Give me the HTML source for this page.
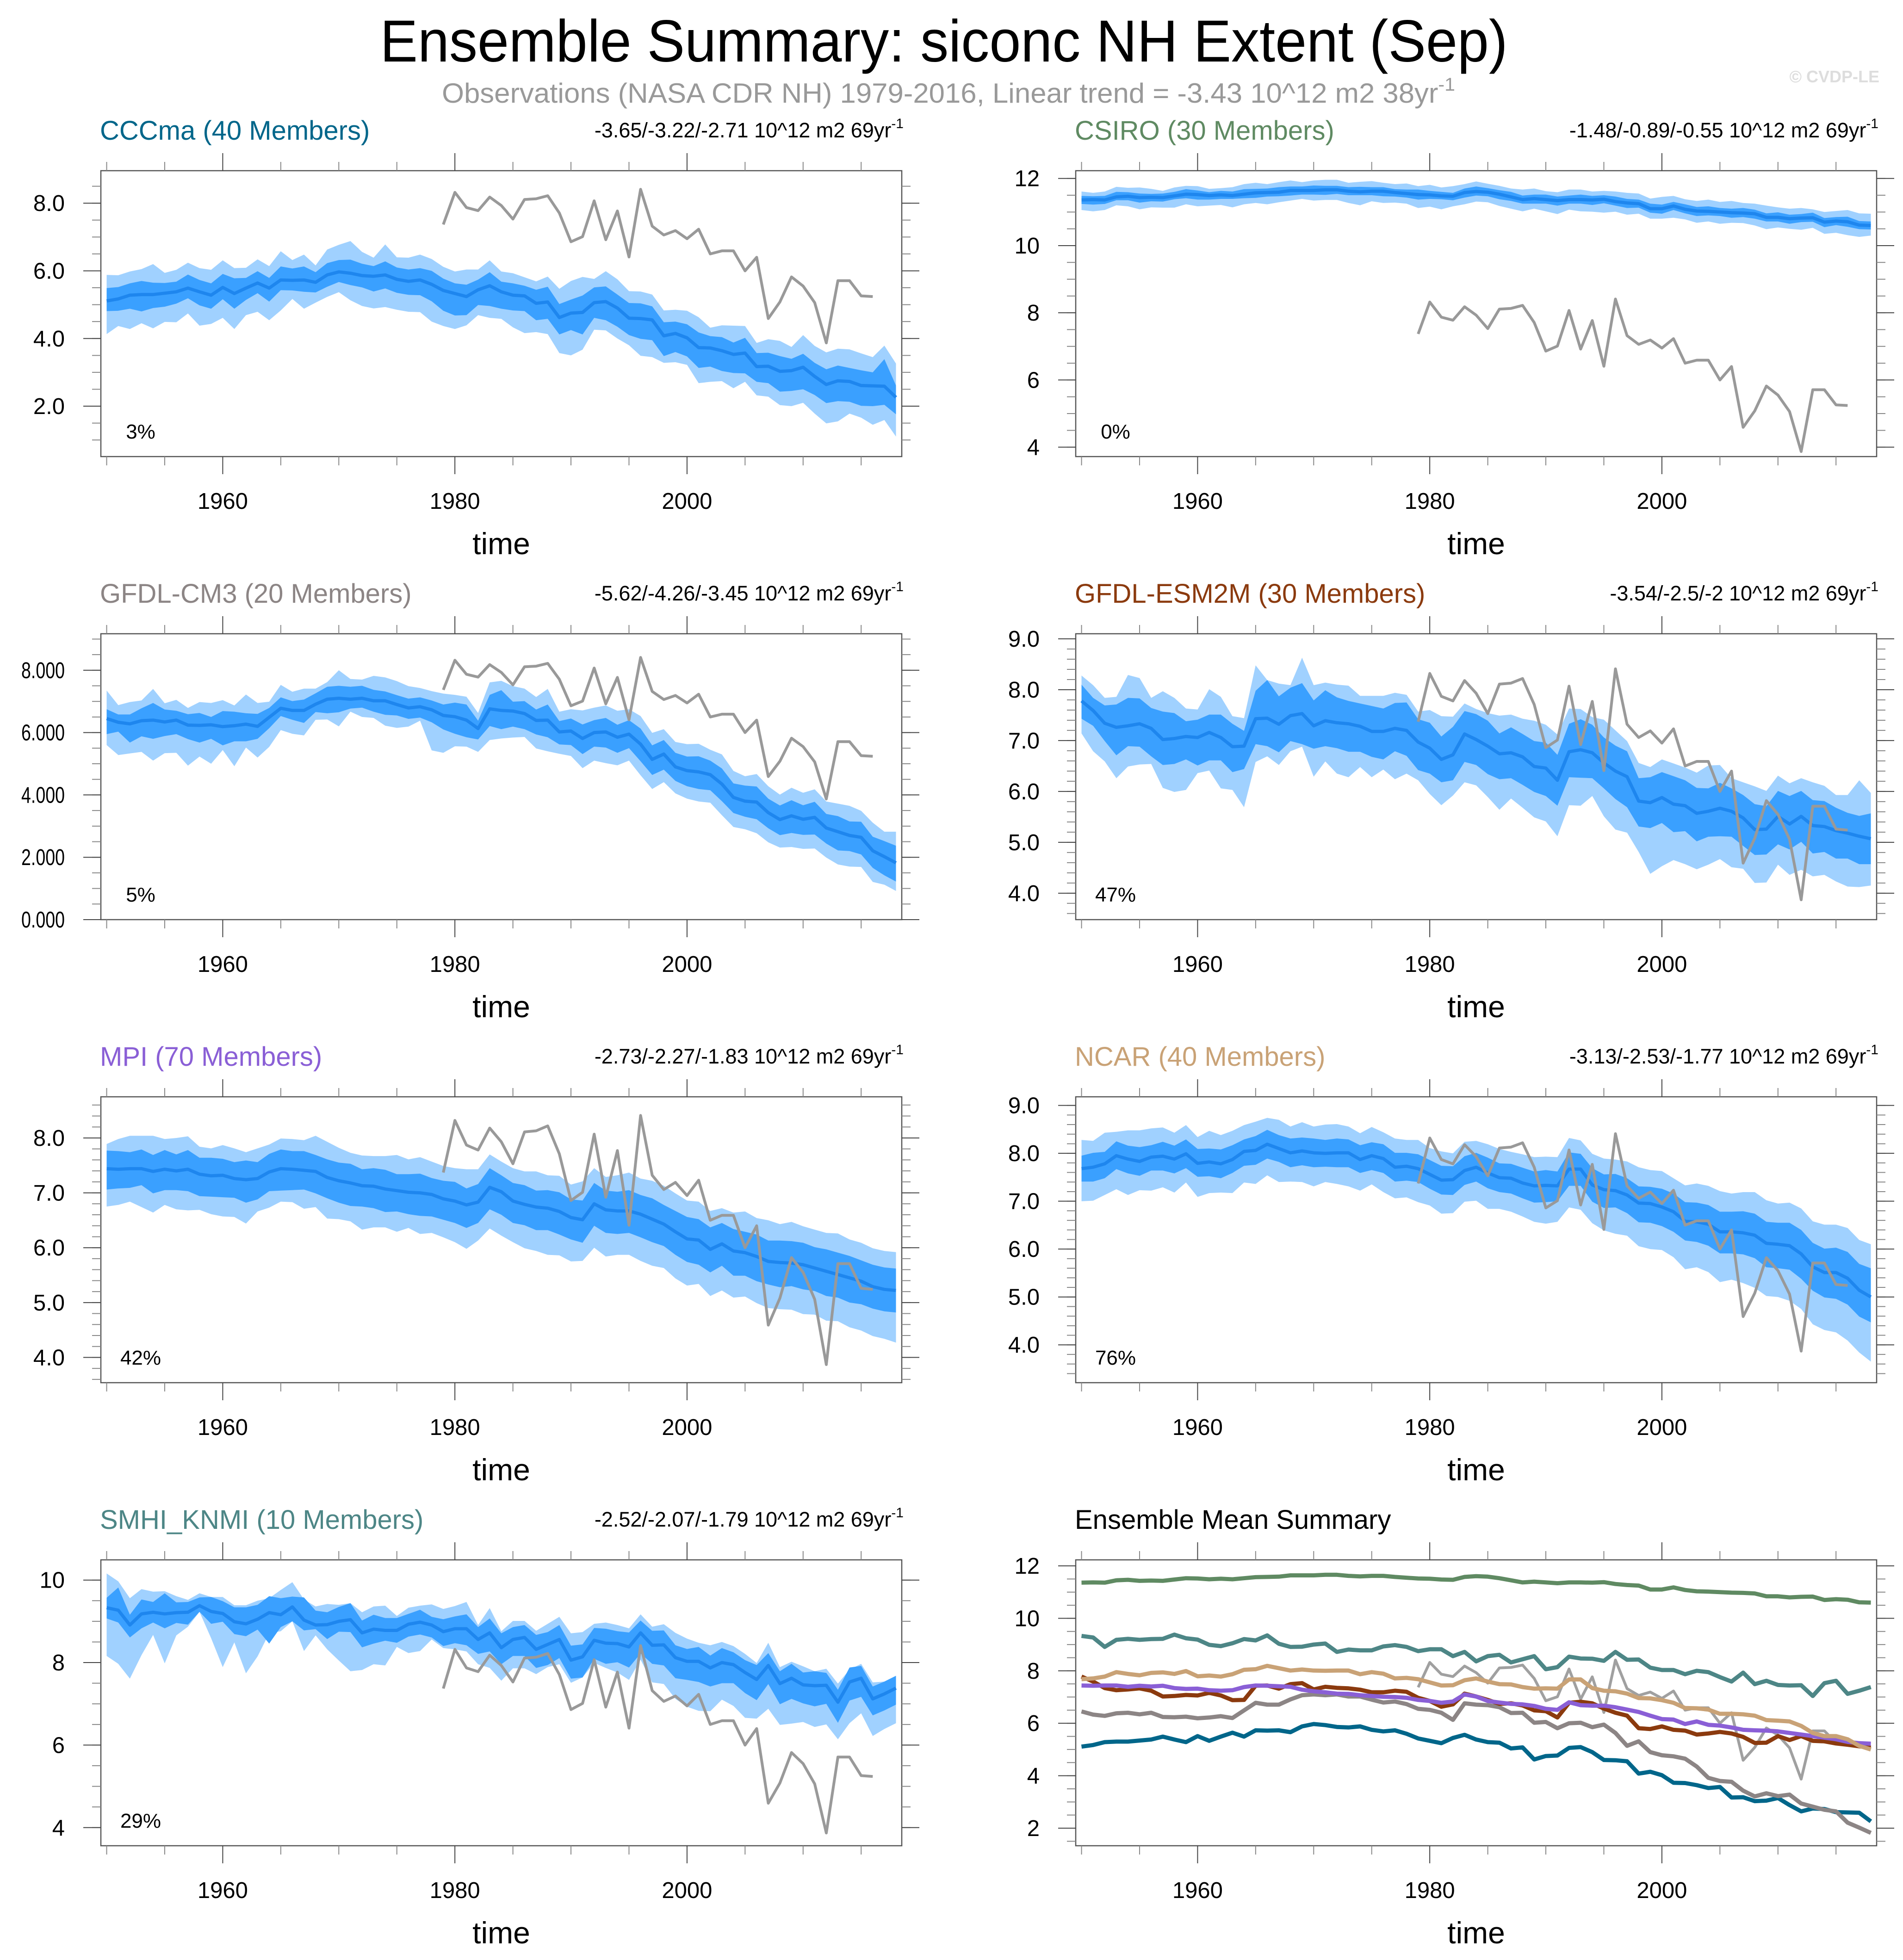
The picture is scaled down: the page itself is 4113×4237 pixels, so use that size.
<!DOCTYPE html>
<html><head><meta charset="utf-8">
<style>
html,body{margin:0;padding:0;background:#fff;}
svg{display:block;font-family:"Liberation Sans",Arial,sans-serif;}
</style></head>
<body>
<svg id="chart" width="4113" height="4237" viewBox="0 0 4113 4237" xmlns="http://www.w3.org/2000/svg">
<rect width="4113" height="4237" fill="#fff"/>
<text x="2040" y="133" font-size="128" text-anchor="middle" textLength="2437" lengthAdjust="spacingAndGlyphs" fill="#000">Ensemble Summary: siconc NH Extent (Sep)</text>
<text x="955" y="222" font-size="60" fill="#999" textLength="2190" lengthAdjust="spacingAndGlyphs">Observations (NASA CDR NH) 1979-2016, Linear trend = -3.43 10^12 m2 38yr<tspan dy="-26" font-size="40">-1</tspan></text>
<text x="4062" y="178" font-size="36" font-weight="bold" fill="#ddd" text-anchor="end">© CVDP-LE</text>
<g id="panels"></g>
</svg>
<script>
// years 1950..2018
const years = [];
for (let y = 1950; y <= 2018; y++) years.push(y);
const obsYears = [];
for (let y = 1979; y <= 2016; y++) obsYears.push(y);
const obsValues = [7.37,8.32,7.87,7.78,8.18,7.93,7.53,8.11,8.13,8.22,7.71,6.86,7.01,8.07,6.92,7.77,6.41,8.41,7.32,7.06,7.19,6.95,7.23,6.50,6.59,6.59,6.00,6.40,4.59,5.08,5.82,5.55,5.06,3.87,5.71,5.71,5.26,5.24];

// CCCma
const cccmaMean = [5.11,5.17,5.28,5.3,5.3,5.34,5.38,5.49,5.38,5.28, 5.51,5.33,5.49,5.64,5.49,5.73,5.72,5.73,5.66,5.88, 5.97,5.93,5.86,5.84,5.88,5.75,5.69,5.73,5.6,5.42, 5.33,5.24,5.44,5.56,5.38,5.28,5.26,5.04,5.08,4.62, 4.75,4.77,5.06,5.09,4.9,4.6,4.59,4.55,4.08,4.15, 4.02,3.73,3.72,3.64,3.53,3.57,3.17,3.18,3.03,3.05, 3.15,2.88,2.64,2.75,2.73,2.61,2.6,2.59,2.26];
const cccmaLightHi = [.77,.7,.7,.75,.9,.6,.65,.75,.7,.75, .8,.75,.6,.7,.65,.85,.6,.75,.5,.75, .8,.95,.7,.55,.9,.65,.7,.75,.75,.7, .65,.8,.6,.75,.6,.65,.55,.65,.75,.85, .95,1.05,.7,.9,.85,.8,.8,.75,.75,.7, .8,.9,.6,.75,.85,.8,.7,.8,.9,.7, .95,.9,.95,.95,.95,.95,.85,1.2,1.0];
const cccmaDarkHi = [.38,.35,.35,.4,.35,.3,.3,.4,.35,.35, .4,.45,.3,.35,.3,.4,.35,.4,.3,.35, .35,.4,.35,.3,.4,.35,.35,.35,.4,.35, .3,.35,.3,.4,.3,.35,.3,.4,.45,.4, .4,.5,.45,.45,.4,.45,.45,.4,.4,.35, .4,.45,.35,.4,.35,.45,.4,.4,.45,.35, .4,.4,.45,.45,.4,.45,.4,.8,.35];
const cccmaDarkLo = [.3,.35,.4,.5,.4,.4,.35,.3,.4,.4, .35,.45,.35,.3,.4,.3,.3,.35,.3,.35, .3,.35,.35,.45,.4,.4,.4,.45,.5,.6, .65,.55,.45,.6,.5,.45,.45,.5,.5,.5, .5,.65,.45,.55,.55,.5,.6,.6,.6,.55, .55,.6,.55,.6,.55,.6,.45,.5,.6,.6, .65,.55,.55,.6,.6,.6,.6,.55,.5];
const cccmaLightLo = [.98,.8,1.0,.85,1.0,.85,.9,.75,1.0,.85, .9,1.05,.8,.85,.95,.9,.55,.85,.6,.65, .6,.8,.9,.95,.95,.9,.9,.95,1.1,1.05, 1.05,.85,.75,.95,.8,.95,1.1,.85,.95,1.05, 1.25,1.1,.8,.85,.9,.8,1.1,1.1,.8,.85, .8,1.05,1.0,.9,1.0,.85,.85,.9,1.0,1.05, 1.05,1.1,1.15,1.2,.95,.95,1.15,1.0,1.16];

// CSIRO
const csiroMean = [11.36,11.37,11.36,11.45,11.47,11.43,11.44,11.43,11.48,11.53, 11.52,11.49,11.51,11.49,11.53,11.57,11.58,11.59,11.64,11.64, 11.64,11.66,11.66,11.62,11.6,11.62,11.62,11.58,11.55,11.52, 11.51,11.48,11.47,11.58,11.61,11.59,11.53,11.45,11.37,11.4, 11.37,11.34,11.37,11.37,11.36,11.38,11.31,11.27,11.25,11.1, 11.1,11.18,11.08,11.03,11.02,11.0,10.98,10.97,10.95,10.84, 10.84,10.8,10.82,10.83,10.7,10.73,10.71,10.61,10.6];
const csiroLightHi = [.25,.2,.25,.3,.25,.3,.25,.2,.25,.25, .25,.2,.2,.25,.3,.3,.25,.3,.3,.25, .3,.3,.3,.25,.3,.3,.25,.25,.3,.25, .3,.25,.3,.25,.3,.25,.25,.25,.3,.3, .25,.25,.3,.3,.25,.25,.3,.3,.3,.3, .35,.3,.3,.3,.35,.3,.35,.3,.3,.35, .3,.3,.3,.25,.3,.3,.35,.35,.35];
const csiroDarkHi = [.12,.1,.12,.15,.12,.12,.1,.12,.12,.15, .12,.1,.12,.12,.15,.12,.12,.15,.12,.12, .15,.12,.12,.12,.15,.12,.12,.1,.12,.15, .12,.12,.1,.12,.15,.12,.12,.15,.12,.12, .15,.12,.12,.15,.12,.12,.15,.12,.12,.15, .12,.12,.15,.12,.15,.12,.12,.15,.12,.12, .15,.12,.12,.15,.12,.12,.15,.12,.12];
const csiroDarkLo = [.12,.15,.12,.1,.12,.15,.12,.12,.1,.12, .15,.12,.12,.1,.12,.15,.12,.12,.15,.12, .12,.15,.12,.12,.1,.12,.15,.12,.12,.15, .12,.1,.12,.15,.12,.12,.15,.12,.12,.15, .12,.15,.12,.12,.15,.12,.12,.15,.12,.12, .15,.12,.12,.15,.12,.12,.15,.12,.15,.12, .12,.15,.12,.12,.15,.12,.15,.12,.12];
const csiroLightLo = [.3,.35,.3,.25,.3,.35,.3,.3,.35,.3, .35,.3,.3,.35,.3,.3,.35,.3,.3,.25, .3,.3,.3,.35,.4,.3,.35,.3,.3,.4, .35,.4,.3,.35,.3,.3,.35,.35,.35,.3, .35,.4,.3,.35,.35,.4,.3,.35,.3,.3, .3,.35,.3,.35,.3,.35,.3,.3,.35,.35, .3,.3,.35,.3,.35,.35,.4,.35,.3];

// GFDL-CM3
const cm3Mean = [6.45,6.33,6.28,6.38,6.4,6.34,6.4,6.24,6.23,6.25, 6.19,6.22,6.27,6.2,6.49,6.78,6.71,6.71,6.91,7.07, 7.1,7.07,7.1,7.02,7.02,6.9,6.79,6.83,6.73,6.55, 6.51,6.4,6.13,6.76,6.71,6.69,6.61,6.39,6.4,6.02, 6.05,5.81,6.0,6.02,5.85,5.95,5.63,5.14,5.31,4.9, 4.78,4.74,4.65,4.35,3.92,3.8,3.77,3.43,3.21,3.33, 3.22,3.28,2.94,2.82,2.7,2.64,2.21,2.02,1.82];
const cm3LightHi = [.9,.55,.7,.65,1.0,.6,.65,.55,.75,.7, .85,.65,.95,.75,.5,.75,.6,.7,.5,.55, .9,.65,.6,.8,.75,.75,.7,.6,.6,.7, .7,.75,.5,.85,.95,.8,.8,.75,1.0,.65, .7,.9,.8,.85,.85,.8,.9,.85,.8,.8, .85,.9,.8,.95,.85,.8,.9,.85,.8,.9, .85,.9,.85,.9,.95,.85,.9,.8,1.0];
const cm3DarkHi = [.3,.25,.3,.4,.55,.4,.3,.35,.4,.25, .5,.45,.35,.4,.3,.35,.3,.35,.35,.4, .4,.4,.4,.35,.3,.3,.3,.3,.3,.35, .45,.5,.25,.45,.65,.3,.4,.35,.5,.35, .4,.45,.4,.45,.4,.45,.5,.45,.45,.45, .45,.5,.45,.5,.45,.5,.5,.45,.45,.5, .45,.5,.45,.5,.45,.5,.45,.5,.55];
const cm3DarkLo = [.5,.3,.6,.5,.6,.45,.45,.45,.55,.45, .6,.5,.55,.4,.35,.25,.3,.4,.25,.45, .45,.3,.3,.35,.45,.35,.35,.35,.4,.45, .55,.55,.35,.55,.6,.5,.5,.45,.55,.4, .45,.5,.45,.5,.5,.45,.55,.5,.5,.45, .5,.55,.5,.55,.5,.5,.55,.5,.5,.55, .5,.55,.5,.6,.5,.55,.55,.6,.6];
const cm3LightLo = [.85,1.05,.95,1.0,1.3,1.0,1.05,1.3,1.0,1.25, .75,1.3,.75,1.0,.95,.7,.75,.8,.5,.65, .9,.4,.6,.55,.8,.75,.6,.45,1.3,1.2, .95,.85,.75,1.0,.9,.85,.75,.9,1.0,.7, .8,.95,.9,1.0,.9,.85,1.0,.95,.9,.85, .9,.95,.9,1.0,.95,.9,1.0,.95,.9,1.0, .95,1.0,.95,1.05,1.0,.95,1.0,.9,.9];

// GFDL-ESM2M
const esmMean = [7.78,7.59,7.34,7.26,7.29,7.33,7.24,7.02,7.04,7.08, 7.06,7.16,7.06,6.88,6.89,7.43,7.44,7.32,7.49,7.53, 7.29,7.39,7.35,7.33,7.28,7.18,7.18,7.24,7.2,6.97, 6.85,6.63,6.72,7.13,7.02,6.89,6.74,6.76,6.68,6.49, 6.46,6.22,6.78,6.82,6.76,6.56,6.4,6.29,5.81,5.78, 5.88,5.75,5.72,5.57,5.61,5.67,5.61,5.48,5.25,5.26, 5.51,5.36,5.51,5.33,5.31,5.23,5.18,5.12,5.07];
const esmLightHi = [.5,.5,.5,.6,1.0,.9,.6,.95,.8,.55, .55,.85,.8,.6,.55,1.05,.75,.8,.6,1.1, .8,.75,.75,.75,.6,.7,.7,.7,.7,.6, .75,.85,.75,.6,.6,.65,.75,.75,.75,.9, .85,.9,.85,.8,.7,.85,.8,.7,.75,.7, .75,.8,.75,.8,.9,.85,.65,.7,.85,.75, .8,.8,.75,.85,.8,.7,.75,1.1,.9];
const esmDarkHi = [.32,.25,.35,.45,.55,.5,.4,.55,.5,.3, .35,.35,.45,.45,.3,.55,.75,.55,.55,.6, .5,.6,.5,.45,.45,.5,.45,.5,.55,.45, .5,.45,.55,.45,.5,.5,.4,.5,.45,.5, .5,.5,.55,.6,.55,.5,.5,.5,.45,.5, .5,.55,.5,.5,.45,.5,.45,.45,.5,.45, .5,.55,.5,.5,.5,.45,.4,.4,.5];
const esmDarkLo = [.35,.3,.35,.55,.4,.45,.55,.5,.5,.45, .55,.55,.45,.5,.45,.5,.55,.55,.5,.6, .45,.5,.5,.55,.5,.5,.55,.45,.5,.55, .5,.45,.5,.55,.5,.55,.5,.5,.55,.5, .55,.5,.5,.55,.5,.5,.55,.6,.5,.5, .5,.55,.5,.55,.5,.55,.5,.55,.5,.5, .55,.5,.5,.55,.5,.55,.5,.55,.5];
const esmLightLo = [.64,.8,.75,1.0,.8,.8,.7,.95,1.05,1.05, .7,.75,1.0,.85,1.2,.85,.75,.8,.7,.65, 1.0,.8,1.0,1.05,.8,.9,.75,1.0,.85,.75, .9,.9,.8,.95,.9,1.0,1.1,.9,1.0,1.0, 1.05,1.1,1.05,1.1,.85,1.05,1.15,1.1,1.0,1.4, 1.35,1.1,1.15,1.1,1.05,1.0,1.1,1.0,1.05,1.05, .95,1.0,1.05,1.0,.95,1.0,1.05,1.0,.92];

// MPI
const mpiMean = [7.44,7.43,7.44,7.44,7.39,7.43,7.4,7.43,7.34,7.31, 7.32,7.26,7.24,7.26,7.38,7.44,7.43,7.41,7.39,7.28, 7.22,7.18,7.13,7.12,7.07,7.04,7.01,7.0,6.97,6.89, 6.85,6.78,6.83,7.1,7.02,6.85,6.79,6.74,6.72,6.66, 6.55,6.51,6.8,6.69,6.67,6.67,6.61,6.52,6.43,6.29, 6.16,6.14,5.97,6.07,5.94,5.91,5.84,5.75,5.73,5.72, 5.69,5.63,5.57,5.51,5.45,5.39,5.29,5.24,5.22];
const mpiLightHi = [.45,.55,.6,.6,.65,.55,.6,.6,.5,.5, .55,.55,.5,.55,.5,.55,.55,.55,.65,.65, .6,.55,.55,.55,.6,.65,.6,.65,.6,.6, .6,.65,.6,.6,.55,.6,.6,.65,.6,.65, .6,.7,.65,.6,.65,.7,.65,.7,.7,.7, .7,.7,.7,.65,.7,.75,.7,.75,.7,.75, .7,.7,.7,.75,.7,.7,.7,.7,.7];
const mpiDarkHi = [.33,.33,.3,.35,.3,.35,.3,.35,.3,.33, .3,.3,.35,.3,.33,.35,.33,.35,.3,.33, .33,.35,.3,.33,.35,.3,.33,.35,.3,.33, .35,.3,.33,.35,.3,.33,.35,.3,.33,.35, .33,.35,.38,.35,.35,.38,.35,.38,.35,.38, .4,.38,.4,.38,.4,.38,.4,.38,.4,.4, .4,.38,.4,.4,.4,.38,.4,.4,.4];
const mpiDarkLo = [.38,.35,.35,.3,.4,.38,.35,.4,.4,.38, .4,.35,.42,.38,.35,.4,.38,.35,.4,.38, .4,.42,.38,.4,.42,.38,.4,.42,.4,.38, .4,.42,.38,.4,.42,.4,.38,.42,.4,.42, .4,.42,.4,.42,.42,.4,.42,.42,.4,.42, .42,.45,.42,.4,.45,.42,.45,.42,.45,.42, .45,.42,.45,.42,.45,.42,.4,.4,.4];
const mpiLightLo = [.69,.65,.6,.7,.75,.65,.7,.75,.65,.7, .75,.7,.8,.6,.65,.6,.6,.7,.65,.75, .7,.7,.8,.75,.7,.75,.65,.75,.7,.7, .75,.8,.7,.75,.8,.75,.8,.8,.85,.8, .8,.75,.8,.85,.8,.8,.85,.85,.8,.85, .85,.8,.85,.85,.85,.8,.85,.85,.85,.85, .9,.85,.9,.85,.9,.9,.9,.9,.95];

// NCAR
const ncarMean = [7.68,7.71,7.78,7.95,7.88,7.83,7.92,7.94,7.88,7.99, 7.79,7.82,7.78,7.87,8.04,8.06,8.19,8.1,8.01,8.05, 8.01,8.0,8.01,8.01,7.87,7.95,7.89,7.71,7.73,7.68, 7.56,7.44,7.45,7.64,7.71,7.59,7.49,7.48,7.38,7.32, 7.33,7.32,7.67,7.67,7.34,7.24,7.22,7.13,6.96,6.95, 6.88,6.78,6.58,6.57,6.52,6.36,6.36,6.34,6.29,6.12, 6.1,6.07,5.9,5.63,5.51,5.51,5.39,5.14,5.0];
const ncarLightHi = [.6,.55,.65,.5,.6,.65,.6,.6,.55,.6, .55,.65,.6,.6,.55,.6,.55,.6,.55,.6, .55,.6,.6,.55,.55,.6,.55,.6,.55,.6, .55,.6,.55,.6,.55,.6,.6,.55,.6,.6, .6,.6,.65,.6,.65,.65,.65,.7,.75,.7, .75,.7,.75,.8,.8,.85,.8,.85,.9,.9, .85,.9,.95,.95,1.0,1.0,1.05,1.05,1.1];
const ncarDarkHi = [.27,.3,.25,.3,.28,.3,.25,.3,.28,.3, .3,.28,.3,.3,.25,.3,.3,.28,.3,.28, .3,.28,.3,.28,.3,.28,.3,.3,.28,.3, .3,.3,.28,.3,.3,.32,.3,.3,.32,.3, .32,.3,.35,.32,.35,.32,.35,.35,.35,.35, .38,.38,.4,.4,.4,.42,.42,.45,.45,.45, .45,.48,.5,.5,.5,.52,.55,.55,.6];
const ncarDarkLo = [.27,.3,.3,.28,.3,.3,.28,.3,.3,.3, .28,.3,.3,.28,.3,.3,.3,.28,.3,.3, .3,.28,.3,.3,.28,.3,.3,.3,.3,.28, .3,.3,.32,.3,.3,.32,.3,.32,.32,.35, .35,.32,.35,.35,.35,.38,.35,.38,.4,.4, .4,.42,.4,.42,.45,.45,.45,.45,.48,.5, .5,.5,.52,.5,.52,.55,.55,.55,.53];
const ncarLightLo = [.68,.7,.65,.7,.75,.6,.7,.65,.7,.6, .7,.65,.6,.7,.65,.7,.65,.7,.6,.65, .7,.6,.65,.7,.65,.6,.7,.65,.65,.7, .65,.7,.7,.65,.7,.75,.65,.7,.7,.75, .8,.75,.8,.85,.8,.85,.9,.85,.9,.95, .9,.95,1.0,.95,1.0,1.05,1.0,1.05,1.1,1.1, 1.1,1.15,1.15,1.2,1.2,1.25,1.3,1.3,1.35];

// SMHI_KNMI
const smhiMean = [9.33,9.27,8.91,9.18,9.22,9.18,9.21,9.22,9.38,9.24, 9.19,8.99,8.94,9.05,9.21,9.16,9.35,9.03,8.91,8.92, 9.0,9.04,8.72,8.81,8.78,8.78,8.93,8.98,8.91,8.75, 8.82,8.82,8.56,8.72,8.36,8.56,8.61,8.32,8.44,8.56, 8.06,8.14,8.54,8.47,8.46,8.38,8.72,8.42,8.43,8.12, 8.03,8.03,7.87,8.0,7.95,7.76,7.59,7.93,7.49,7.62, 7.46,7.44,7.45,7.04,7.53,7.62,7.12,7.24,7.38];
const smhiLightHi = [.83,.7,.65,.6,.5,.55,.4,.3,.3,.35, .4,.4,.45,.45,.35,.6,.6,.5,.45,.5, .4,.4,.5,.55,.6,.35,.4,.4,.5,.55, .55,.65,.35,.6,.4,.45,.4,.45,.5,.55, .65,.6,.4,.5,.45,.45,.45,.45,.5,.6, .55,.45,.55,.5,.45,.45,.4,.55,.4,.4, .45,.35,.4,.45,.3,.35,.4,.3,.3];
const smhiDarkHi = [.24,.55,.25,.35,.25,.5,.25,.25,.2,.35, .3,.35,.4,.35,.4,.4,.25,.55,.35,.3, .35,.4,.3,.35,.3,.3,.25,.3,.2,.3, .3,.35,.3,.35,.35,.3,.3,.35,.3,.35, .35,.3,.3,.35,.3,.35,.3,.35,.35,.3, .3,.35,.3,.35,.3,.3,.35,.3,.3,.35, .3,.35,.3,.3,.35,.3,.3,.3,.3];
const smhiDarkLo = [.26,.3,.3,.35,.25,.35,.25,.3,.15,.3, .2,.3,.3,.25,.75,.3,.35,.25,.1,.35, .25,.3,.35,.35,.25,.3,.3,.3,.3,.35, .35,.4,.35,.45,.4,.4,.45,.45,.5,.45, .45,.5,.45,.5,.45,.5,.5,.45,.5,.5, .45,.5,.45,.5,.45,.5,.5,.45,.5,.5, .45,.5,.45,.5,.45,.45,.4,.4,.4];
const smhiLightLo = [1.17,1.3,1.3,1.0,.55,1.2,.55,.35,.15,.65, 1.3,.5,1.2,.9,.5,.4,.35,.75,.25,.6, .95,1.25,.9,.85,.85,.4,.7,.7,.35,.4, .5,.55,.6,.85,.8,.7,.75,.6,.55,.6, .55,.5,.55,.6,.7,.8,.65,.9,.95,1.0, 1.1,1.2,1.05,.9,1.0,1.1,.95,1.05,1.0,1.1, .9,1.0,.95,.9,1.0,.85,.9,.85,.85];

const panelTitles = ["CCCma (40 Members)","CSIRO (30 Members)","GFDL-CM3 (20 Members)","GFDL-ESM2M (30 Members)","MPI (70 Members)","NCAR (40 Members)","SMHI_KNMI (10 Members)"];
const trendTexts = ["-3.65/-3.22/-2.71 10^12 m2 69yr","-1.48/-0.89/-0.55 10^12 m2 69yr","-5.62/-4.26/-3.45 10^12 m2 69yr","-3.54/-2.5/-2 10^12 m2 69yr","-2.73/-2.27/-1.83 10^12 m2 69yr","-3.13/-2.53/-1.77 10^12 m2 69yr","-2.52/-2.07/-1.79 10^12 m2 69yr"];
const pctTexts = ["3%","0%","5%","47%","42%","76%","29%"];
const xTickLabels = [1960,1980,2000];
const yTicksList = [[2,4,6,8],[4,6,8,10,12],[0,2,4,6,8],[4,5,6,7,8,9],[4,5,6,7,8],[4,5,6,7,8,9],[4,6,8,10],[2,4,6,8,10,12]];

const panelColors = ["#00668a","#5f8a62","#8c8585","#8b3a0e","#8a5fd6","#c9a276","#4d8686"];
const S = {
  mean:[cccmaMean,csiroMean,cm3Mean,esmMean,mpiMean,ncarMean,smhiMean],
  lh:[cccmaLightHi,csiroLightHi,cm3LightHi,esmLightHi,mpiLightHi,ncarLightHi,smhiLightHi],
  dh:[cccmaDarkHi,csiroDarkHi,cm3DarkHi,esmDarkHi,mpiDarkHi,ncarDarkHi,smhiDarkHi],
  dl:[cccmaDarkLo,csiroDarkLo,cm3DarkLo,esmDarkLo,mpiDarkLo,ncarDarkLo,smhiDarkLo],
  ll:[cccmaLightLo,csiroLightLo,cm3LightLo,esmLightLo,mpiLightLo,ncarLightLo,smhiLightLo]
};
const ranges = [[0.51,8.96],[3.72,12.23],[0,9.17],[3.48,9.1],[3.54,8.75],[3.21,9.18],[3.56,10.49],[1.33,12.23]];
const decimals = [1,0,3,1,1,1,0,0];
const minorSteps = [0.5,0.5,0.5,0.2,0.2,0.2,0.5,0.5];

const NS = "http://www.w3.org/2000/svg";
const root = document.getElementById('panels');
const W = 1731, H = 618, LEFTS = [218,2325], TOPS = [369,1370,2371,3372];
function mk(tag, attrs, parent, text) {
  const e = document.createElementNS(NS, tag);
  for (const k in attrs) e.setAttribute(k, attrs[k]);
  if (text !== undefined) e.textContent = text;
  parent.appendChild(e);
  return e;
}

for (let p = 0; p < 8; p++) {
  const col = p % 2, row = Math.floor(p / 2);
  const L = LEFTS[col], T = TOPS[row];
  const [ymin, ymax] = ranges[p];
  const xs = yr => L + (yr - 1949.5) / 69 * W;
  const ys = v => T + H - (v - ymin) / (ymax - ymin) * H;
  const g = mk('g', {}, root);
  
  
  const clipId = 'clip' + p;
  const cp = mk('clipPath', {id: clipId}, g);
  mk('rect', {x: L, y: T, width: W, height: H}, cp);
  const plot = mk('g', {'clip-path': 'url(#' + clipId + ')'}, g);

  if (p < 7) {
    const m = S.mean[p];
    const n = Math.min(m.length, years.length);
    const band = (hiArr, loArr, fill, name) => {
      const top = [], bot = [];
      for (let i = 0; i < n; i++) {
        top.push(xs(years[i]).toFixed(1) + ',' + ys(m[i] + (hiArr[i] || 0)).toFixed(1));
        bot.unshift(xs(years[i]).toFixed(1) + ',' + ys(m[i] - (loArr[i] || 0)).toFixed(1));
      }
      const poly = mk('polygon', {points: top.concat(bot).join(' '), fill: fill}, plot);
      
      
    };
    band(S.lh[p], S.ll[p], '#a0d1ff', 'outer-spread-band');
    band(S.dh[p], S.dl[p], '#3aa0ff', 'inner-spread-band');
    const pts = [];
    for (let i = 0; i < n; i++) pts.push(xs(years[i]).toFixed(1) + ',' + ys(m[i]).toFixed(1));
    const ml = mk('polyline', {points: pts.join(' '), fill: 'none', stroke: '#1e86ee', 'stroke-width': 7, 'stroke-linejoin': 'round'}, plot);
    
    
    const op = [];
    for (let i = 0; i < obsValues.length; i++) op.push(xs(obsYears[i]).toFixed(1) + ',' + ys(obsValues[i]).toFixed(1));
    const ol = mk('polyline', {points: op.join(' '), fill: 'none', stroke: '#999', 'stroke-width': 6, 'stroke-linejoin': 'round'}, plot);
    
    
  } else {
    const op = [];
    for (let i = 0; i < obsValues.length; i++) op.push(xs(obsYears[i]).toFixed(1) + ',' + ys(obsValues[i]).toFixed(1));
    const ol = mk('polyline', {points: op.join(' '), fill: 'none', stroke: '#a0a0a0', 'stroke-width': 6, 'stroke-linejoin': 'round'}, plot);
    
    
    for (let s = 0; s < 7; s++) {
      const m = S.mean[s];
      const pts = [];
      for (let i = 0; i < Math.min(m.length, years.length); i++) pts.push(xs(years[i]).toFixed(1) + ',' + ys(m[i]).toFixed(1));
      const l = mk('polyline', {points: pts.join(' '), fill: 'none', stroke: panelColors[s], 'stroke-width': 9, 'stroke-linejoin': 'round'}, plot);
      
      
    }
  }

  const fr = mk('rect', {x: L, y: T, width: W, height: H, fill: 'none', stroke: '#555', 'stroke-width': 2.5}, g);
  
  
  for (let yr = 1950; yr <= 2015; yr += 5) {
    const x = xs(yr), major = (yr % 20 === 0);
    const len = major ? 38 : 19;
    mk('line', {x1: x, y1: T, x2: x, y2: T - len, stroke: major ? '#444' : '#888', 'stroke-width': 2}, g);
    mk('line', {x1: x, y1: T + H, x2: x, y2: T + H + len, stroke: major ? '#444' : '#888', 'stroke-width': 2}, g);
  }
  xTickLabels.forEach(yr => {
    const t = mk('text', {x: xs(yr), y: T + H + 113, 'font-size': 49, 'text-anchor': 'middle', fill: '#000'}, g, String(yr));
    
    
  });
  const xt = mk('text', {x: L + W / 2, y: T + H + 211, 'font-size': 66, 'text-anchor': 'middle', fill: '#000'}, g, 'time');
  
  
  const ms = minorSteps[p];
  for (let v = Math.ceil(ymin / ms) * ms; v <= ymax + 1e-9; v += ms) {
    const y = ys(v);
    mk('line', {x1: L, y1: y, x2: L - 19, y2: y, stroke: '#888', 'stroke-width': 2}, g);
    mk('line', {x1: L + W, y1: y, x2: L + W + 19, y2: y, stroke: '#888', 'stroke-width': 2}, g);
  }
  yTicksList[p].forEach(v => {
    const y = ys(v);
    mk('line', {x1: L, y1: y, x2: L - 38, y2: y, stroke: '#444', 'stroke-width': 2}, g);
    mk('line', {x1: L + W, y1: y, x2: L + W + 38, y2: y, stroke: '#444', 'stroke-width': 2}, g);
    const attrs = {x: L - 78, y: y + 17, 'font-size': 49, 'text-anchor': 'end', fill: '#000'};
    if (decimals[p] === 3) { attrs.textLength = 94; attrs.lengthAdjust = 'spacingAndGlyphs'; }
    const t = mk('text', attrs, g, v.toFixed(decimals[p]));
    
    
  });
  if (p < 7) {
    const tt = mk('text', {x: L - 2, y: T - 67, 'font-size': 58, fill: panelColors[p]}, g, panelTitles[p]);
    
    
    const tr = mk('text', {x: L + W + 4, y: T - 72, 'font-size': 45, 'text-anchor': 'end', fill: '#000'}, g, trendTexts[p]);
    mk('tspan', {dy: -20, 'font-size': 30}, tr, '-1');
    
    
    const pc = mk('text', {x: L + 86, y: T + H - 39, 'font-size': 44, 'text-anchor': 'middle', fill: '#000'}, g, pctTexts[p]);
    
    
  } else {
    const tt = mk('text', {x: L - 2, y: T - 67, 'font-size': 58, fill: '#000'}, g, 'Ensemble Mean Summary');
    
    
  }
}
</script>
</body></html>
